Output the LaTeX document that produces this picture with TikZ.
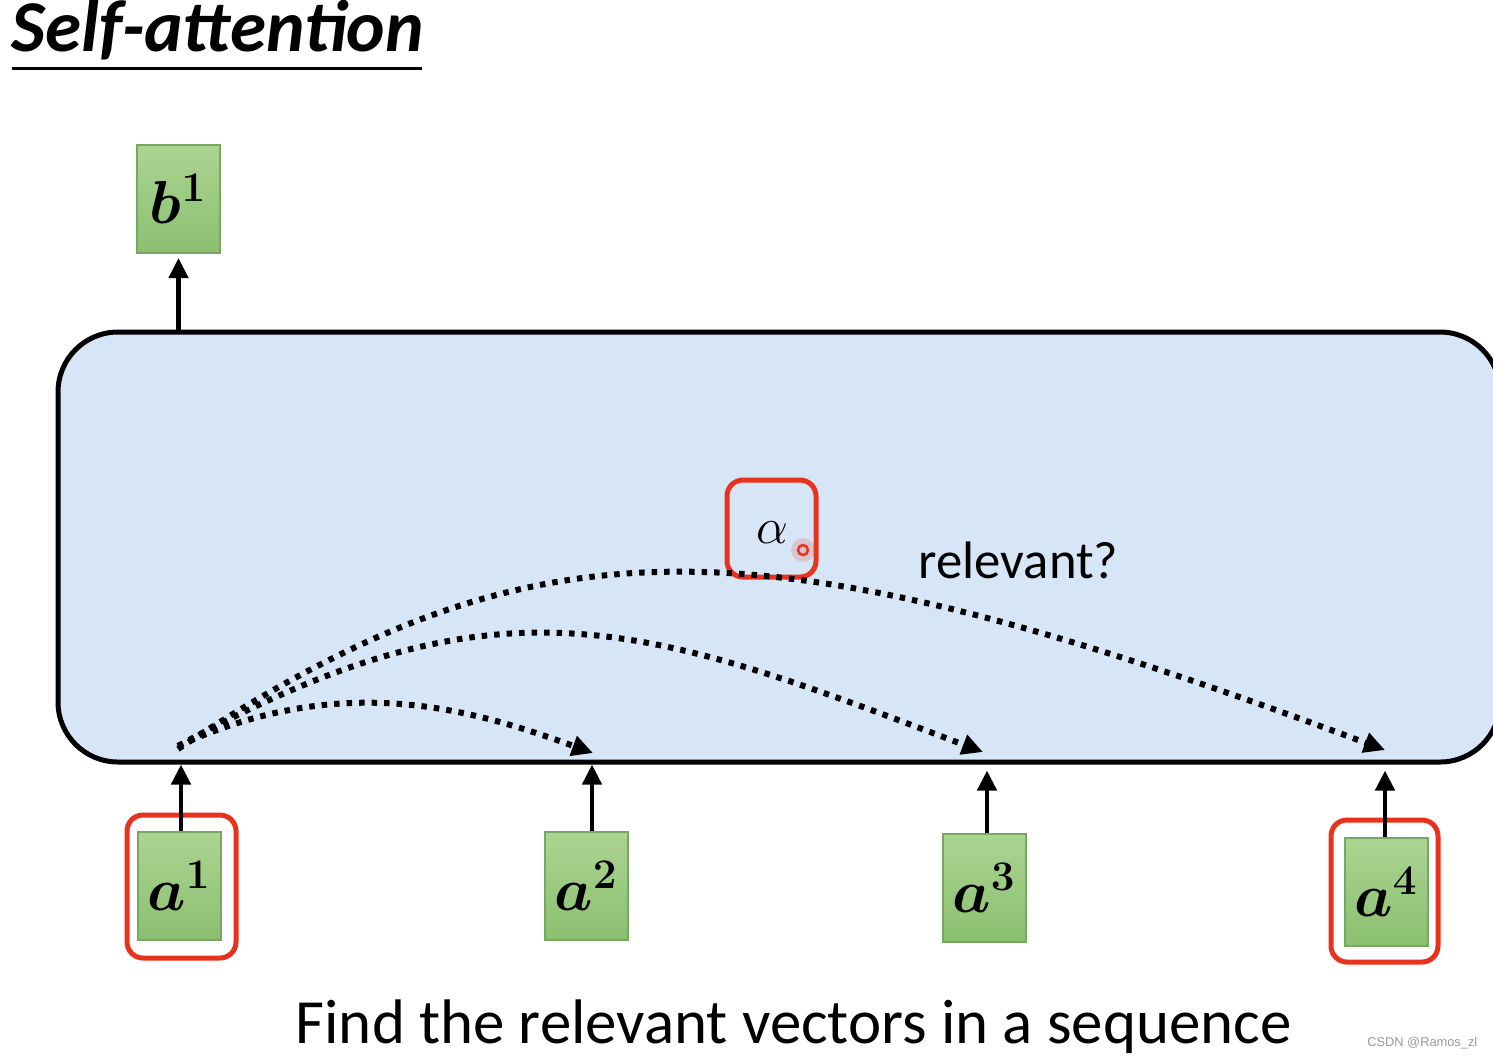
\documentclass[tikz,border=0pt]{standalone}
\usepackage{fontspec}
\setmainfont{Carlito}
\newfontfamily\wmfont{Liberation Sans}
\usetikzlibrary{arrows.meta,positioning,calc}
\definecolor{boxblue}{RGB}{214,230,246}
\definecolor{gtop}{RGB}{172,212,146}
\definecolor{gbot}{RGB}{138,192,112}
\definecolor{gline}{RGB}{118,168,98}
\definecolor{hlred}{RGB}{232,50,30}
\tikzset{
  vecbox/.style={draw=gline, line width=0.2mm, top color=gtop, bottom color=gbot,
    minimum width=8.3mm, minimum height=10.8mm, inner sep=0pt,
    font=\fontsize{18}{20}\selectfont\boldmath},
  redframe/.style={draw=hlred, line width=0.5mm, rounded corners=1.6mm, inner sep=0pt},
  uparrow/.style={line width=0.45mm, -{Triangle[length=2.0mm,width=1.9mm]}},
  attn/.style={line width=0.6mm, dash pattern=on 0.55mm off 0.7mm, -{Triangle[length=2.1mm,width=2.0mm]}},
}
\begin{document}
\begin{tikzpicture}[x=0.1mm,y=-0.1mm]
\useasboundingbox (0,0) rectangle (1493,1057);
\clip (0,0) rectangle (1493,1057);
\fill[white] (0,0) rectangle (1493,1057);
% title
\node[anchor=base west, inner sep=0pt, font=\fontsize{20.8}{24}\selectfont\bfseries\itshape] (title) at (11,51) {Self-attention};
\draw[line width=0.3mm] (12,68) -- (422,68);
% big self-attention block
\node[draw, line width=0.5mm, fill=boxblue, rounded corners=6mm, minimum width=144.2mm, minimum height=43mm, inner sep=0pt] (sa) at (779,547) {};
% output
\node[vecbox] (b1) at (178.5,199) {$b^{1}$};
% inputs
\node[vecbox] (a1) at (179.5,886) {$a^{1}$};
\node[vecbox] (a2) at (586.5,886) {$a^{2}$};
\node[vecbox] (a3) at (984.5,888) {$a^{3}$};
\node[vecbox] (a4) at (1386.5,891.5) {$a^{4}$};
% red highlight frames
\node[redframe, minimum width=10.9mm, minimum height=14.3mm] (r1) at (181.5,886.5) {};
\node[redframe, minimum width=10.7mm, minimum height=14.2mm] (r4) at (1384.5,891) {};
\node[redframe, minimum width=8.9mm, minimum height=9.7mm] (ra) at (771.5,528.5) {};
\node[inner sep=0pt, font=\fontsize{15}{18}\selectfont] (alpha) at (772,533) {$\alpha$};
% pointer dot
\fill[hlred, opacity=0.18] (803,550) circle (1.2mm);
\draw[hlred, line width=0.25mm] (803,550) circle (0.5mm);
% label
\node[anchor=base west, inner sep=0pt, font=\fontsize{15}{18}\selectfont] (rel) at (918,578) {relevant?};
% vertical arrows
\draw[uparrow] (b1.south |- sa.north) -- ([yshift=-0.4mm]b1.south);
\draw[uparrow] ([xshift=0.15mm]a1.north) -- ([xshift=0.15mm]a1.north |- sa.south);
\draw[uparrow] ([xshift=0.55mm]a2.north) -- ([xshift=0.55mm]a2.north |- sa.south);
\draw[uparrow] ([xshift=0.25mm]a3.north) -- ([xshift=0.25mm,yshift=-0.6mm]a3.north |- sa.south);
\draw[uparrow] ([xshift=-0.15mm]a4.north) -- ([xshift=-0.15mm,yshift=-0.6mm]a4.north |- sa.south);
% attention curves
\coordinate (s) at (178,746);
\coordinate (e2) at (593,753);
\coordinate (e3) at (983,752);
\coordinate (e4) at (1385,750);
\draw[attn] (s) .. controls (340,672) and (466,707) .. (e2);
\draw[attn] (s) .. controls (500,570) and (640,622) .. (e3);
\draw[attn] ([yshift=-0.3mm]s) .. controls (540,510) and (760,517) .. (e4);
% caption
\node[anchor=base west, inner sep=0pt, font=\fontsize{17.9}{20}\selectfont] (cap) at (295,1043) {Find the relevant vectors in a sequence};
% watermark
\node[anchor=base east, inner sep=0pt, text=black!40, font=\wmfont\fontsize{3.65}{4}\selectfont] (wm) at (1478,1046) {CSDN @Ramos\_zl};
\end{tikzpicture}
\end{document}
